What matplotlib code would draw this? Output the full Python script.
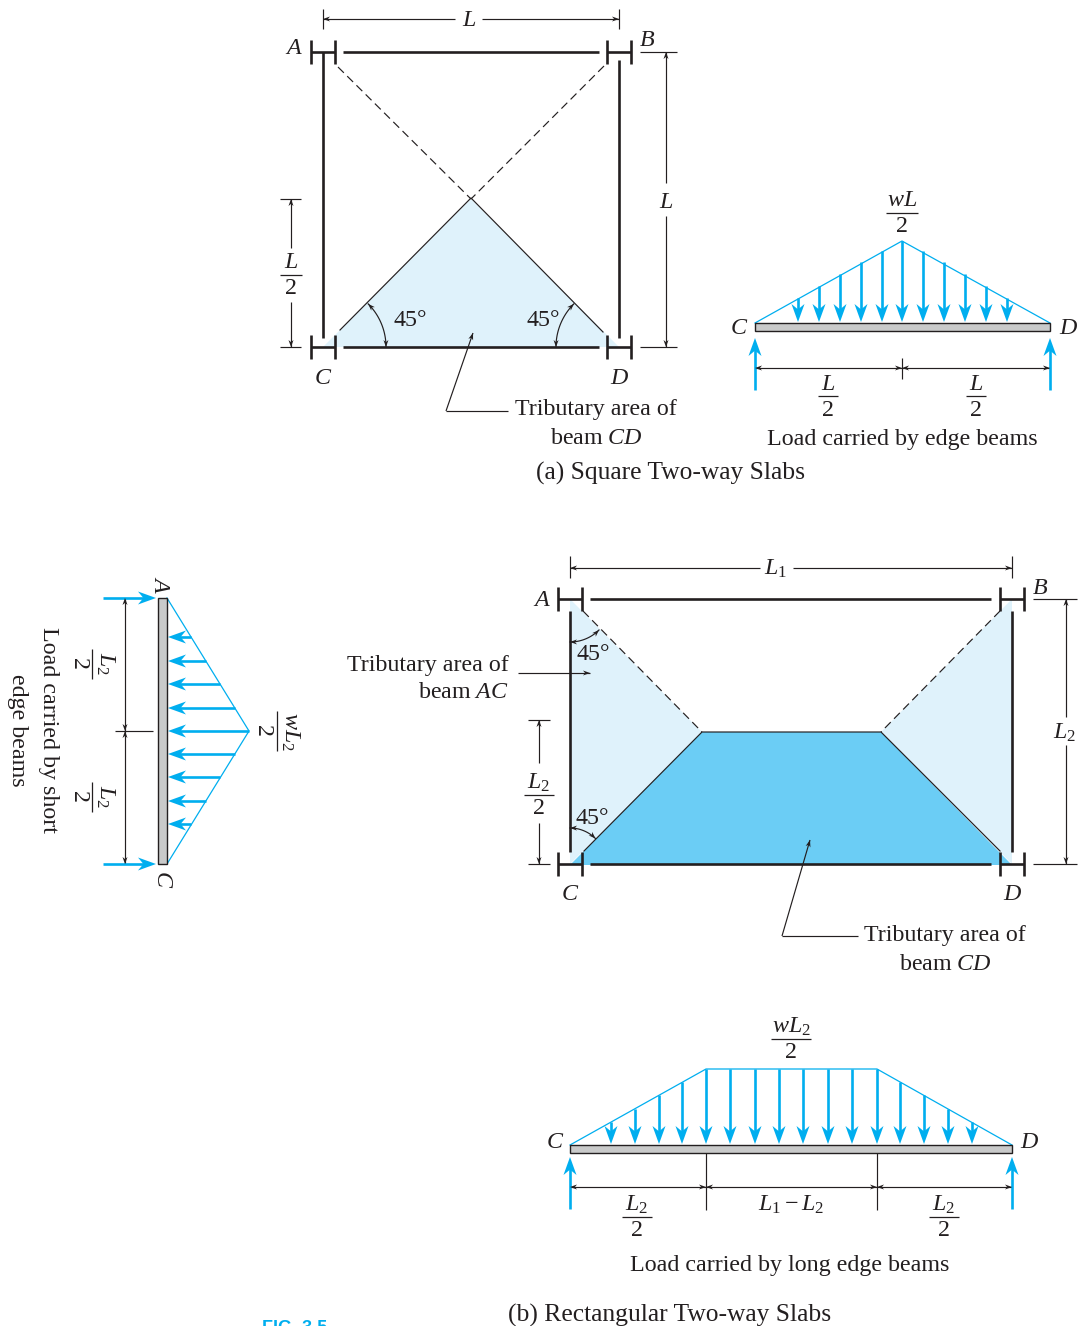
import numpy as np
from matplotlib import pyplot as plt
from matplotlib.patches import Polygon, Rectangle

plt.rcParams['font.family'] = ['Liberation Serif', 'DejaVu Sans']
plt.rcParams['mathtext.fontset'] = 'custom'
plt.rcParams['mathtext.rm'] = 'Liberation Serif'
plt.rcParams['mathtext.it'] = 'Liberation Serif:italic'
plt.rcParams['mathtext.default'] = 'it'

BLUE = '#00aeef'
INK = '#231f20'
PALE = '#dff2fb'
MID = '#6bcdf5'
GREY = '#c9caca'
FS = 17.3

#load arrows, square slab
sq_load_x = [798, 819, 840, 861, 882, 902, 923, 944, 965, 986, 1007]
sq_load_top = [298, 286, 274, 262, 251, 241, 251, 262, 274, 286, 298]
#load arrows, long beam
long_load_x = [611, 635, 659, 682, 706, 730, 755, 779, 803, 828, 852, 877, 900, 924, 948, 972]
long_load_top = [1122, 1109, 1095, 1082, 1069, 1069, 1069, 1069, 1069, 1069, 1069, 1069, 1082, 1095, 1109, 1122]
#load arrows, short beam (drawn sideways)
short_load_y = [637, 661, 684, 708, 731, 754, 777, 801, 824]
short_load_end = [191, 206, 220, 235, 249, 235, 220, 206, 191]

corner_labels = [('A', 294, 47), ('B', 647, 39), ('C', 323, 376), ('D', 619, 376),
                 ('C', 739, 326), ('D', 1068, 326),
                 ('A', 542, 598), ('B', 1040, 586), ('C', 570, 893), ('D', 1012, 893),
                 ('C', 555, 1141), ('D', 1029, 1141)]
plain_labels = [('Load carried by edge beams', 902, 437),
                ('Load carried by long edge beams', 790, 1263),
                ('45°', 410, 318), ('45°', 543, 318), ('45°', 593, 653), ('45°', 592, 817)]
captions = [('(a) Square Two-way Slabs', 670, 471),
            ('(b) Rectangular Two-way Slabs', 670, 1313)]

fig = plt.figure(figsize=(10.79, 13.26), dpi=100)
ax = fig.add_axes([0, 0, 1, 1])
ax.set_xlim(0, 1079)
ax.set_ylim(1326, 0)
ax.axis('off')


def line(x0, y0, x1, y1, lw=0.85, color=INK, **kw):
    ax.plot([x0, x1], [y0, y1], color=color, lw=lw, solid_capstyle='butt', **kw)


def head(x, y, dx, dy, length, half, color=INK):
    #barbed arrow head with tip at x,y, pointing along dx,dy
    d = np.hypot(dx, dy)
    ux, uy = dx / d, dy / d
    px, py = -uy, ux
    pts = [(x, y),
           (x - ux * length + px * half, y - uy * length + py * half),
           (x - ux * length * 0.7, y - uy * length * 0.7),
           (x - ux * length - px * half, y - uy * length - py * half)]
    ax.add_patch(Polygon(pts, closed=True, fc=color, ec='none', zorder=5))


def blue_arrow(x0, y0, x1, y1, lw=1.9):
    d = np.hypot(x1 - x0, y1 - y0)
    k = (d - 8) / d
    line(x0, y0, x0 + (x1 - x0) * k, y0 + (y1 - y0) * k, lw=lw, color=BLUE, zorder=4)
    head(x1, y1, x1 - x0, y1 - y0, 18, 6.5, BLUE)


def dim(x0, y0, x1, y1, both=False):
    #thin line with arrow head at the far end
    line(x0, y0, x1, y1)
    head(x1, y1, x1 - x0, y1 - y0, 7, 2.5)
    if both:
        head(x0, y0, x0 - x1, y0 - y1, 7, 2.5)


def arc(cx, cy, r, a0, a1):
    t = np.radians(np.linspace(a0, a1, 40))
    xs, ys = cx + r * np.cos(t), cy + r * np.sin(t)
    ax.plot(xs, ys, color=INK, lw=0.85)
    head(xs[0], ys[0], xs[0] - xs[1], ys[0] - ys[1], 7, 2.5)
    head(xs[-1], ys[-1], xs[-1] - xs[-2], ys[-1] - ys[-2], 7, 2.5)


def column_head(x, y):
    #I section seen from above
    line(x - 12, y, x + 12, y, lw=1.9)
    line(x - 12, y - 12, x - 12, y + 12, lw=1.9)
    line(x + 12, y - 12, x + 12, y + 12, lw=1.9)


def txt(x, y, s, rot=0, **kw):
    kw.setdefault('fontsize', FS)
    #liberation sits a touch high against the reference
    if rot == 0:
        y = y + 2
    else:
        x = x - 2
    ax.text(x, y, s, ha=kw.pop('ha', 'center'), va='center', rotation=rot, color=INK,
            rotation_mode='anchor', **kw)


def frac(x, y, top, half=13):
    #stacked fraction, x,y is the middle of the bar
    txt(x, y - 14, top)
    line(x - half, y, x + half, y, lw=0.9)
    txt(x, y + 12, '2')


def frac_side(x, y, top, half=13):
    #same thing turned a quarter clockwise
    txt(x + 15, y, top, rot=-90)
    line(x, y - half, x, y + half, lw=0.9)
    txt(x - 12, y, '2', rot=-90)


def beam(x0, y0, x1, y1):
    ax.add_patch(Rectangle((x0, y0), x1 - x0, y1 - y0, fc=GREY, ec=INK, lw=1.0, zorder=6))


#square slab
ax.add_patch(Polygon([(323, 347), (471, 199), (619, 347)], fc=PALE, ec='none'))
line(343, 52, 599, 52, lw=1.9)
line(343, 347, 599, 347, lw=1.9)
line(323, 52, 323, 338, lw=1.9)
line(619, 60, 619, 338, lw=1.9)
for cx, cy in [(323, 52), (619, 52), (323, 347), (619, 347)]:
    column_head(cx, cy)
ax.plot([338, 471], [67, 199], color=INK, lw=0.85, dashes=(7, 4))
ax.plot([604, 471], [66, 199], color=INK, lw=0.85, dashes=(7, 4))
ax.plot([340, 471, 603], [330, 198, 332], color=INK, lw=0.85)
arc(325, 347, 61, -45, 0)
arc(617, 347, 61, -135, -180)

line(323, 9, 323, 29)
line(619, 9, 619, 29)
dim(455, 19, 323, 19)
dim(482, 19, 619, 19)
txt(469, 18, 'L', style='italic')
line(640, 52, 677, 52)
line(640, 347, 677, 347)
dim(666, 183, 666, 52)
dim(666, 216, 666, 347)
txt(666, 201, 'L', style='italic')
line(280, 199, 301, 199)
line(280, 347, 301, 347)
dim(291, 248, 291, 199)
dim(291, 302, 291, 347)
frac(291, 275, '$L$', half=11)
dim(446, 411, 473, 333)
line(446, 411, 508, 411)
txt(596, 408, 'Tributary area of')
txt(596, 436, 'beam $CD$')

#load on beam CD
ax.plot([755, 902, 1050], [323, 241, 323], color=BLUE, lw=0.9)
for x, top in zip(sq_load_x, sq_load_top):
    blue_arrow(x, top, x, 322)
beam(755, 323, 1050, 331)
blue_arrow(755, 390, 755, 338)
blue_arrow(1050, 390, 1050, 338)
line(902, 358, 902, 379)
dim(902, 368, 755, 368, both=True)
dim(902, 368, 1050, 368, both=True)
frac(828, 396, '$L$', half=10)
frac(976, 396, '$L$', half=10)
frac(902, 213, '$wL$', half=16)

#rectangular slab
ax.add_patch(Polygon([(570, 599), (702, 732), (570, 864)], fc=PALE, ec='none'))
ax.add_patch(Polygon([(1012, 599), (881, 732), (1012, 864)], fc=PALE, ec='none'))
ax.add_patch(Polygon([(570, 865), (702, 732), (881, 732), (1012, 865)], fc=MID, ec='none'))
line(590, 599, 991, 599, lw=1.9)
line(590, 864, 991, 864, lw=1.9)
line(570, 611, 570, 852, lw=1.9)
line(1012, 611, 1012, 852, lw=1.9)
for cx, cy in [(570, 599), (1012, 599), (570, 864), (1012, 864)]:
    column_head(cx, cy)
ax.plot([583, 702], [611, 732], color=INK, lw=0.85, dashes=(7, 4))
ax.plot([1000, 881], [611, 732], color=INK, lw=0.85, dashes=(7, 4))
ax.plot([584, 702, 881, 1000], [851, 732, 732, 851], color=INK, lw=0.85)
arc(570, 601, 41, 90, 45)
arc(570, 864, 36, -90, -45)

line(570, 556, 570, 578)
line(1012, 556, 1012, 578)
dim(760, 568, 570, 568)
dim(793, 568, 1012, 568)
txt(776, 567, '$L_1$')
line(1033, 599, 1077, 599)
line(1033, 864, 1077, 864)
dim(1066, 717, 1066, 599)
dim(1066, 745, 1066, 864)
txt(1065, 731, '$L_2$')
line(528, 720, 550, 720)
line(528, 864, 550, 864)
dim(539, 763, 539, 720)
dim(539, 823, 539, 864)
frac(539, 795, '$L_2$', half=15)
dim(518, 673, 590, 673)
txt(509, 664, 'Tributary area of', ha='right')
txt(509, 691, 'beam $AC$', ha='right')
dim(782, 936, 810, 840)
line(782, 936, 858, 936)
txt(945, 933, 'Tributary area of')
txt(945, 962, 'beam $CD$')

#load on long beam
ax.plot([570, 706, 877, 1012], [1145, 1069, 1069, 1145], color=BLUE, lw=0.9)
for x, top in zip(long_load_x, long_load_top):
    blue_arrow(x, top, x, 1144)
beam(570, 1145, 1012, 1153)
blue_arrow(570, 1209, 570, 1157)
blue_arrow(1012, 1209, 1012, 1157)
line(706, 1153, 706, 1210)
line(877, 1153, 877, 1210)
dim(706, 1187, 570, 1187, both=True)
dim(877, 1187, 706, 1187, both=True)
dim(877, 1187, 1012, 1187, both=True)
frac(637, 1217, '$L_2$', half=15)
frac(944, 1217, '$L_2$', half=15)
txt(791, 1203, '$L_1 - L_2$')
frac(791, 1039, '$wL_2$', half=20)

#load on short beam, everything on its side
ax.plot([167, 249, 167], [598, 731, 864], color=BLUE, lw=0.9)
for y, end in zip(short_load_y, short_load_end):
    blue_arrow(end, y, 168, y)
beam(158, 598, 167, 864)
blue_arrow(103, 598, 156, 598)
blue_arrow(103, 864, 156, 864)
line(115, 731, 153, 731)
dim(125, 731, 125, 598, both=True)
dim(125, 731, 125, 864, both=True)
frac_side(92, 664, '$L_2$', half=15)
frac_side(92, 797, '$L_2$', half=15)
frac_side(277, 731, '$wL_2$', half=20)
txt(163, 583, 'A', rot=-90, style='italic')
txt(163, 880, 'C', rot=-90, style='italic')
txt(50, 730, 'Load carried by short', rot=-90)
txt(19, 730, 'edge beams', rot=-90)

for s, x, y in corner_labels:
    txt(x, y, s, style='italic')
for s, x, y in plain_labels:
    txt(x, y, s)
for s, x, y in captions:
    txt(x, y, s, fontsize=18.4)

#caption cut off by the bottom edge of the page
ax.text(295, 1320, 'FIG. 3.5', color=BLUE, ha='center', va='top', fontsize=13,
        fontweight='bold', family=['Liberation Sans', 'DejaVu Sans'])

fig.savefig('out.png', dpi=100)
